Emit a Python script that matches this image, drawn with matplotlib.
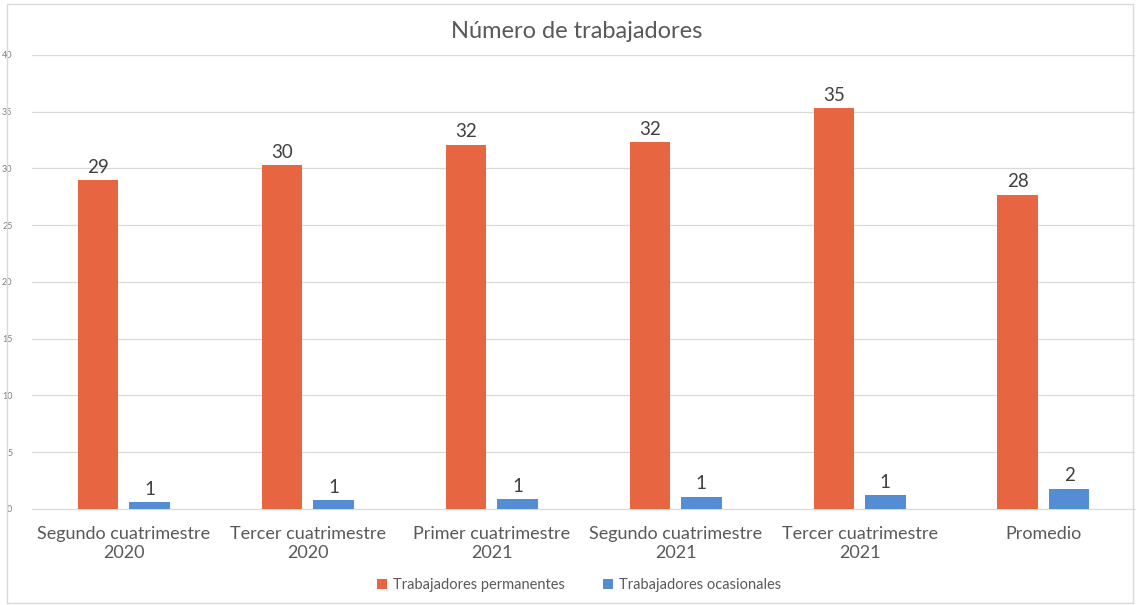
import matplotlib.pyplot as plt
import numpy as np
from matplotlib.patches import Rectangle

categorias = ["Segundo cuatrimestre\n2020", "Tercer cuatrimestre\n2020", "Primer cuatrimestre\n2021",
              "Segundo cuatrimestre\n2021", "Tercer cuatrimestre\n2021", "Promedio"]
permanentes = [29.0, 30.3, 32.1, 32.3, 35.3, 27.7]
ocasionales = [0.6, 0.75, 0.9, 1.1, 1.2, 1.8]
y_ticks = [0, 5, 10, 15, 20, 25, 30, 35, 40]

naranja = "#E86541"
azul = "#548DD4"
gris = "#595959"

plt.rcParams['font.family'] = ['Lato', 'DejaVu Sans']

fig = plt.figure(figsize=(11.4, 6.05), dpi=100)
ax = fig.add_axes([0.028, 0.1587, 0.968, 0.7504])

x = np.arange(len(categorias))
ancho = 0.22
b1 = ax.bar(x - 0.14, permanentes, ancho, color=naranja, label="Trabajadores permanentes", zorder=3)
b2 = ax.bar(x + 0.14, ocasionales, ancho, color=azul, label="Trabajadores ocasionales", zorder=3)

for barras, vals in ((b1, permanentes), (b2, ocasionales)):
    for b, v in zip(barras, vals):
        ax.annotate(f"{v:.0f}", (b.get_x() + b.get_width() / 2, v), xytext=(0, 3),
                    textcoords="offset points", ha="center", va="bottom",
                    fontsize=13.5, color="#404040")

ax.set_xlim(-0.5, 5.5)
ax.set_ylim(0, 40)
ax.set_yticks(y_ticks)
ax.tick_params(axis='y', labelsize=6.5, colors="#7f7f7f", length=0, pad=14)
ax.set_xticks(x)
ax.set_xticklabels(categorias, fontsize=13, color=gris)
ax.tick_params(axis='x', length=0, pad=12.5)
ax.grid(axis='y', color="#d9d9d9", linewidth=0.9, zorder=0)
for s in ["top", "right", "left"]:
    ax.spines[s].set_visible(False)
ax.spines["bottom"].set_color("#d9d9d9")

fig.text(0.506, 0.948, "Número de trabajadores", ha="center", va="center", fontsize=17, color=gris)

fig.legend(handles=[b1, b2], loc="center", bbox_to_anchor=(0.508, 0.033), ncol=2, frameon=False,
           fontsize=10.5, labelcolor=gris, handlelength=0.7, handleheight=0.7, handletextpad=0.4,
           columnspacing=2.6)

fig.patches.append(Rectangle((0.006, 0.004), 0.988, 0.99, transform=fig.transFigure,
                             fill=False, edgecolor="#d9d9d9", linewidth=1))

fig.savefig("out.png", dpi=100)
